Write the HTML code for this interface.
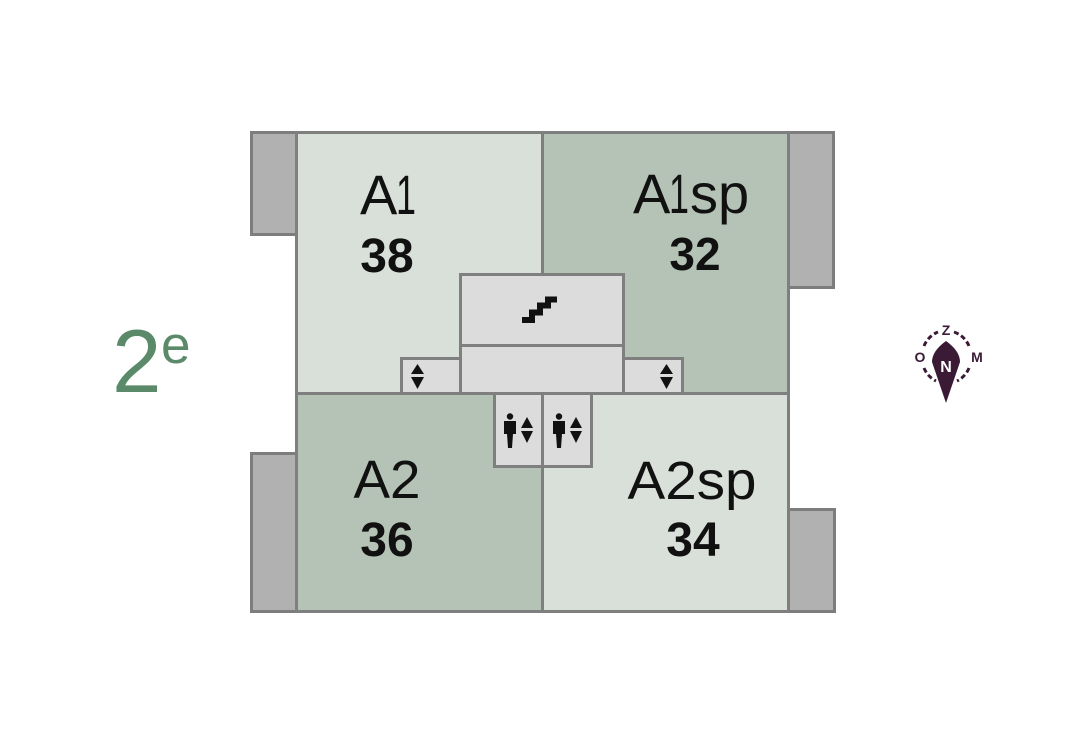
<!DOCTYPE html>
<html><head><meta charset="utf-8"><style>
html,body{margin:0;padding:0;background:#fff;}
svg{display:block;}
text{font-family:"Liberation Sans",sans-serif;}
</style></head><body>
<svg width="1079" height="737" viewBox="0 0 1079 737" xmlns="http://www.w3.org/2000/svg">
<rect x="0" y="0" width="1079" height="737" fill="#fff"/>
<!-- balconies -->
<g fill="#b1b1b1" stroke="#7d7d7d" stroke-width="3">
<rect x="251.5" y="132.5" width="45" height="102"/>
<rect x="787.5" y="132.5" width="46" height="155"/>
<rect x="251.5" y="453.5" width="45" height="158"/>
<rect x="787.5" y="509.5" width="47" height="102"/>
</g>
<!-- rooms -->
<g stroke="#7f7f7f" stroke-width="3">
<rect x="296.5" y="132.5" width="246" height="261" fill="#d9e0da"/>
<rect x="542.5" y="132.5" width="246" height="261" fill="#b4c3b5"/>
<rect x="296.5" y="393.5" width="246" height="218" fill="#b4c3b5"/>
<rect x="542.5" y="393.5" width="246" height="218" fill="#d9e0da"/>
</g>
<!-- core -->
<g stroke="#7f7f7f" stroke-width="3" fill="#dcdcdc">
<rect x="460.5" y="274.5" width="163" height="71"/>
<rect x="460.5" y="345.5" width="163" height="48"/>
<rect x="401.5" y="358.5" width="59" height="35"/>
<rect x="623.5" y="358.5" width="59" height="35"/>
<rect x="494.5" y="393.5" width="48" height="73"/>
<rect x="542.5" y="393.5" width="49" height="73"/>
</g>
<!-- stair icon -->
<polyline points="522,320 532,320 532,312.5 540,312.5 540,305.5 548,305.5 548,299.5 557,299.5" fill="none" stroke="#111" stroke-width="6" stroke-linejoin="miter"/>
<!-- small lift arrows -->
<g fill="#111">
<polygon points="411,374 424,374 417.5,364"/>
<polygon points="411,377 424,377 417.5,389"/>
<polygon points="660,374 673,374 666.5,364"/>
<polygon points="660,377 673,377 666.5,389"/>
</g>
<!-- elevator icons -->
<g fill="#111">
<circle cx="510" cy="416.5" r="3.2"/>
<path d="M504,421 L516,421 L516,434 L513,434 L512,448 L508,448 L507,434 L504,434 Z"/>
<polygon points="521,428 533,428 527,417"/>
<polygon points="521,431 533,431 527,443"/>
<circle cx="559" cy="416.5" r="3.2"/>
<path d="M553,421 L565,421 L565,434 L562,434 L561,448 L557,448 L556,434 L553,434 Z"/>
<polygon points="570,428 582,428 576,417"/>
<polygon points="570,431 582,431 576,443"/>
</g>
<!-- labels -->
<g fill="#111" font-size="56">
<text x="360" y="214">A</text>
<text x="396" y="214" textLength="20" lengthAdjust="spacingAndGlyphs">1</text>
<text x="633" y="213">A</text>
<text x="669" y="213" textLength="20" lengthAdjust="spacingAndGlyphs">1</text>
<text x="690" y="213">sp</text>
</g>
<g fill="#111" text-anchor="middle">
<text x="387" y="272" font-size="48" font-weight="bold">38</text>
<text x="695" y="270" font-size="46" font-weight="bold">32</text>
<text x="387" y="498" font-size="54" textLength="67" lengthAdjust="spacingAndGlyphs">A2</text>
<text x="387" y="556" font-size="48" font-weight="bold">36</text>
<text x="692" y="499" font-size="54" textLength="129" lengthAdjust="spacingAndGlyphs">A2sp</text>
<text x="693" y="556" font-size="48" font-weight="bold">34</text>
</g>
<!-- floor label -->
<text x="112" y="392" font-size="89" fill="#5b8a6b">2</text>
<text x="161" y="363" font-size="53" fill="#5b8a6b">e</text>
<!-- compass -->
<g fill="none" stroke="#3a1a35" stroke-width="3" stroke-dasharray="5 3">
<path d="M924,346 A25,25 0 0 1 938,332"/>
<path d="M954,332 A25,25 0 0 1 969,346"/>
<path d="M924,368 A25,25 0 0 0 936,381"/>
<path d="M969,368 A25,25 0 0 1 957,381"/>
</g>
<path d="M946,341 Q932,351 932,362 L946,403 L960,362 Q960,351 946,341 Z" fill="#3a1a35"/>
<g font-weight="bold" fill="#3a1a35" text-anchor="middle">
<text x="946" y="335" font-size="14">Z</text>
<text x="920" y="362" font-size="14">O</text>
<text x="977" y="362" font-size="14">M</text>
</g>
<text x="946" y="372" font-size="16" font-weight="bold" fill="#fff" text-anchor="middle">N</text>
</svg>
</body></html>
